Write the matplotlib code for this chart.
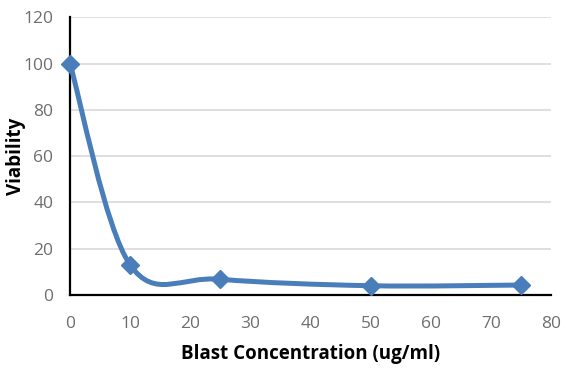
import numpy as np
import matplotlib.pyplot as plt
from matplotlib.path import Path
from matplotlib.patches import PathPatch

conc = [0, 10, 25, 50, 75]
viability = [100, 13, 6.8, 4, 4.3]
x_ticks = [0, 10, 20, 30, 40, 50, 60, 70, 80]
y_ticks = [0, 20, 40, 60, 80, 100, 120]

blue = '#4A7EBB'


def smooth_path(xs, ys):
    # Excel style smoothed line: cubic Bezier with control points from neighbours
    pts = np.column_stack([xs, ys]).astype(float)
    n = len(pts)
    verts = [pts[0]]
    codes = [Path.MOVETO]
    for i in range(n - 1):
        p0 = pts[max(i - 1, 0)]
        p1 = pts[i]
        p2 = pts[i + 1]
        p3 = pts[min(i + 2, n - 1)]
        c1 = p1 + (p2 - p0) / 6
        c2 = p2 - (p3 - p1) / 6
        verts += [c1, c2, p2]
        codes += [Path.CURVE4] * 3
    return Path(verts, codes)


plt.rcParams['font.family'] = ['Open Sans', 'DejaVu Sans']

fig = plt.figure(figsize=(5.76, 3.8), dpi=100)
ax = fig.add_axes([0.1215, 0.2237, 0.8355, 0.731])

ax.add_patch(PathPatch(smooth_path(conc, viability), fill=False,
                       edgecolor=blue, lw=3.6, capstyle='round', zorder=3))
ax.plot(conc, viability, linestyle='none', marker='D', ms=9,
        color=blue, zorder=4, clip_on=False)

ax.set_xlim(0, 80)
ax.set_ylim(0, 120)
ax.set_xticks(x_ticks)
ax.set_yticks(y_ticks)
ax.tick_params(length=0, labelsize=12.5, labelcolor='#6E6E6E')
ax.tick_params(axis='x', pad=15)
ax.tick_params(axis='y', pad=12)
ax.grid(axis='y', color='#D9D9D9', lw=1.2)
ax.set_axisbelow(True)
for s in ['top', 'right']:
    ax.spines[s].set_visible(False)
for s in ['left', 'bottom']:
    ax.spines[s].set_linewidth(1.6)
    ax.spines[s].set_color('black')

ax.set_xlabel('Blast Concentration (ug/ml)', fontsize=13.5, fontweight='bold')
ax.xaxis.set_label_coords(0.5, -0.178)
ax.set_ylabel('Viability', fontsize=13.5, fontweight='bold')
ax.yaxis.set_label_coords(-0.092, 0.5)

fig.savefig('out.png', dpi=100)
